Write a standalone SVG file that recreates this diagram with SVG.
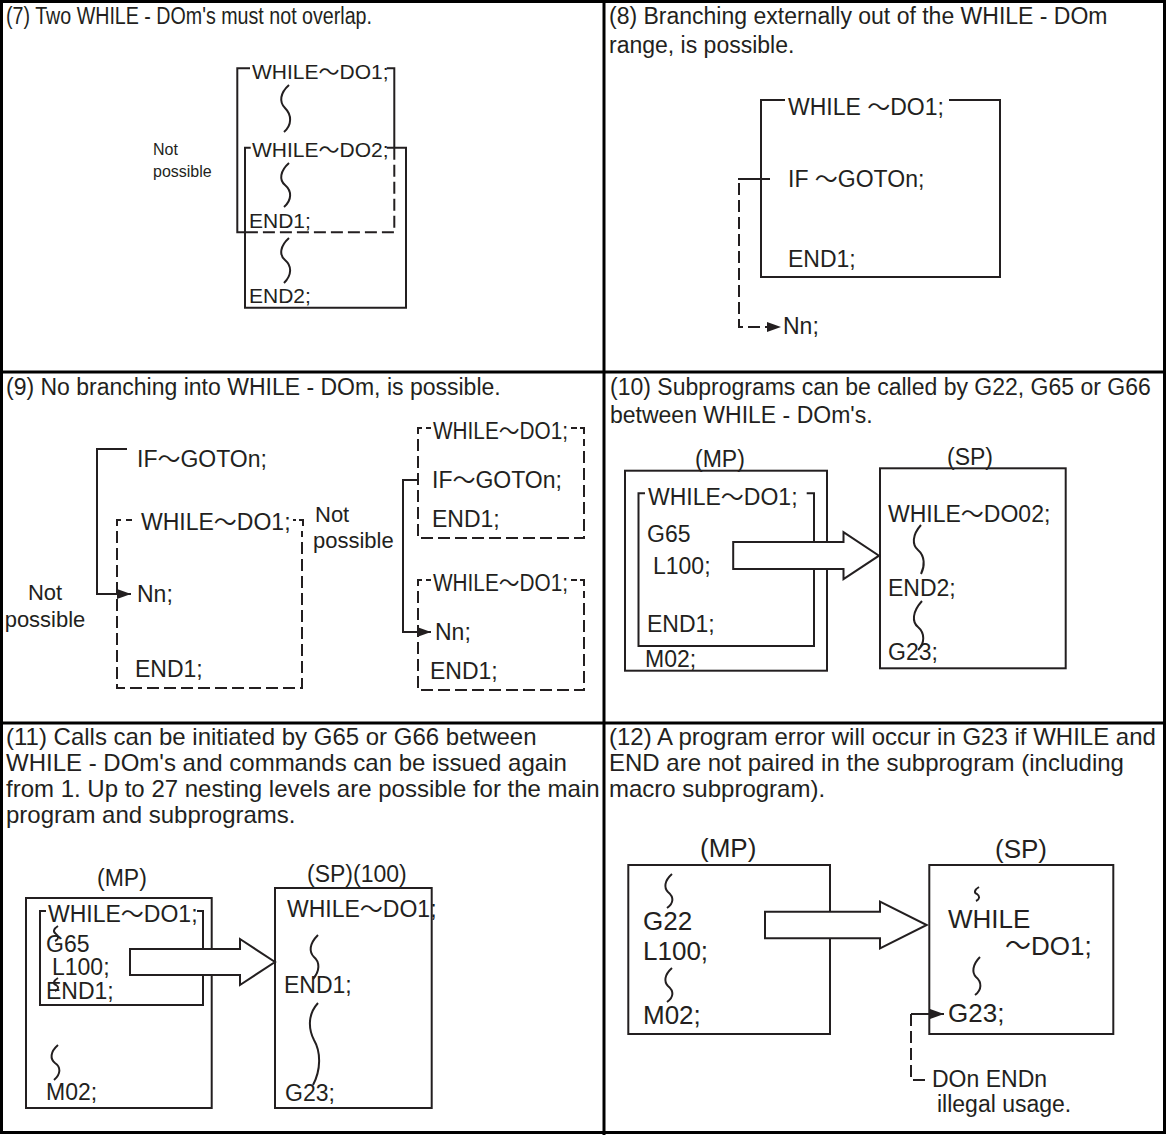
<svg xmlns="http://www.w3.org/2000/svg" width="1166" height="1135" viewBox="0 0 1166 1135">
<defs>
<style>
.g{stroke:#000;stroke-width:3;fill:none}
.l{stroke:#231f20;stroke-width:2;fill:none}
.d{stroke:#231f20;stroke-width:2;fill:none;stroke-dasharray:12 5}
.big{stroke:#231f20;stroke-width:2;fill:#fff}
text{font-family:"Liberation Sans",Arial,"Noto Sans CJK JP",sans-serif;font-size:23px;fill:#231f20}
.s21{font-size:21px}
.s16{font-size:16px}
.s24{font-size:24px}
.s26{font-size:26px}
</style>
<marker id="ah" markerUnits="userSpaceOnUse" markerWidth="14" markerHeight="10" refX="14" refY="5" orient="auto">
<path d="M0,0 L14,5 L0,10 Z" fill="#231f20"/>
</marker>
</defs>
<rect width="1166" height="1135" fill="#fff"/>
<g id="grid">
<rect class="g" x="1.5" y="1.5" width="1163" height="1131"/>
<line class="g" x1="604" y1="0" x2="604" y2="1135"/>
<line class="g" x1="0" y1="372" x2="1166" y2="372"/>
<line class="g" x1="0" y1="723" x2="1166" y2="723"/>
</g>
<g id="headers">
<text x="6" y="24" textLength="366" lengthAdjust="spacingAndGlyphs">(7) Two WHILE - DOm's must not overlap.</text>
<text x="609" y="24">(8) Branching externally out of the WHILE - DOm</text>
<text x="609" y="53">range, is possible.</text>
<text x="6" y="395">(9) No branching into WHILE - DOm, is possible.</text>
<text x="610" y="395">(10) Subprograms can be called by G22, G65 or G66</text>
<text x="610" y="423">between WHILE - DOm's.</text>
<text class="s24" x="6" y="745">(11) Calls can be initiated by G65 or G66 between</text>
<text class="s24" x="6" y="771">WHILE - DOm's and commands can be issued again</text>
<text class="s24" x="6" y="797">from 1. Up to 27 nesting levels are possible for the main</text>
<text class="s24" x="6" y="823">program and subprograms.</text>
<text class="s24" x="609" y="745">(12) A program error will occur in G23 if WHILE and</text>
<text class="s24" x="609" y="771">END are not paired in the subprogram (including</text>
<text class="s24" x="609" y="797">macro subprogram).</text>
</g>
<g id="connectors">
<!-- panel 7 -->
<path class="l" d="M250,68.3 H237.3 V232.3 H245"/>
<path class="l" d="M386.7,68.3 H394.3 V147.7"/>
<path class="d" d="M394.3,147.7 V232.3 H245"/>
<path class="l" d="M250.7,147.7 H245 V307.7 H406 V147.7 H386.7"/>
<path class="l" d="M289,85 C280,93 279,102 285,108 C292,115 292,125 284,132"/>
<path class="l" d="M289,163 C280,171 279,180 285,185 C292,191 292,200 284,207"/>
<path class="l" d="M289,238 C280,246 279,255 285,260 C292,266 292,275 284,283"/>
<!-- panel 8 -->
<path class="l" d="M785,100 H761 V277 H1000 V100 H949"/>
<path class="l" d="M738,179 H770"/>
<path class="d" d="M739,183 V327 H781" marker-end="url(#ah)"/>
<!-- panel 9 -->
<path class="l" d="M127,449 H97 V594 H131" marker-end="url(#ah)"/>
<path class="l" d="M117,526 V520 H121 M126,520 H132 M293,520 H296 M299,520 H303 V526"/>
<path class="d" d="M117,531 V688 H302 V531"/>
<path class="l" d="M418,434 V428 H422 M426,428 H431 M571,428 H577 M580,428 H584 V434"/>
<path class="d" d="M418,439 V538 H584 V439"/>
<path class="l" d="M418,586 V580 H422 M426,580 H431 M571,580 H577 M580,580 H584 V586"/>
<path class="d" d="M418,591 V690 H584 V591"/>
<path class="l" d="M418,480 H403 V632 H431" marker-end="url(#ah)"/>
<!-- panel 10 -->
<rect class="l" x="625" y="470.7" width="202" height="200"/>
<path class="l" d="M645,493.3 H638.5 V646 H814 V493.3 H806.7"/>
<rect class="l" x="880" y="468.3" width="185.7" height="200"/>
<path class="l" d="M921,525 C912,535 912,545 918,550 C925,556 925,566 921,574"/>
<path class="l" d="M922,601 C912,612 912,622 918,627 C925,633 925,643 918,650"/>
<polygon class="big" points="733.2,541.9 843.5,541.9 843.5,532.2 879,555.7 843.5,579.2 843.5,569 733.2,569"/>
<!-- panel 11 -->
<rect class="l" x="26" y="898" width="185.7" height="210"/>
<path class="l" d="M46,911 H40 V1005 H203 V911 H197"/>
<path class="l" d="M58,926 C53,929 53,932 56,934 C59,936 59,939 55,941"/>
<path class="l" d="M58,978 C53,981 53,984 56,985 C59,987 59,989 55,991"/>
<path class="l" d="M58,1045 C50,1052 50,1059 55,1063 C61,1067 61,1074 54,1080"/>
<rect class="l" x="275" y="888" width="156.7" height="220"/>
<path class="l" d="M318,935 C309,944 309,952 314,957 C320,962 320,971 313,979"/>
<path class="l" d="M318,1003 C308,1014 308,1028 314,1040 C321,1052 321,1070 313,1085"/>
<polygon class="big" points="130,949 240,949 240,939 275,962 240,985 240,975 130,975"/>
<!-- panel 12 -->
<rect class="l" x="628.3" y="865" width="201.7" height="169"/>
<path class="l" d="M672,874 C664,881 664,888 668,892 C674,897 674,903 667,908"/>
<path class="l" d="M672,968 C664,975 664,982 668,986 C674,991 674,997 667,1002"/>
<rect class="l" x="929.3" y="865" width="184" height="169"/>
<path class="l" d="M979,887 C974,890 974,893 977,894 C980,896 980,899 976,901"/>
<path class="l" d="M980,957 C972,965 972,973 976,977 C982,982 982,990 975,995"/>
<polygon class="big" points="765,911.7 880,911.7 880,901.7 926.7,925 880,948.3 880,938.3 765,938.3"/>
<path class="l" d="M911,1014 H944" marker-end="url(#ah)"/>
<path class="d" d="M911,1014 V1080 H928"/>
</g>
<g id="p7">
<text class="s21" x="252" y="79">WHILE～DO1;</text>
<text class="s21" x="252" y="157">WHILE～DO2;</text>
<text class="s21" x="249" y="228">END1;</text>
<text class="s21" x="249" y="303">END2;</text>
<text class="s16" x="153" y="155">Not</text>
<text class="s16" x="153" y="177">possible</text>
</g>
<g id="p8">
<text x="788" y="115">WHILE ～DO1;</text>
<text x="788" y="187">IF ～GOTOn;</text>
<text x="788" y="267">END1;</text>
<text x="783" y="334">Nn;</text>
</g>
<g id="p9">
<text x="137" y="467">IF～GOTOn;</text>
<text x="141" y="530">WHILE～DO1;</text>
<text x="137" y="602">Nn;</text>
<text x="135" y="677">END1;</text>
<text x="315" y="522" style="font-size:22px">Not</text>
<text x="313" y="548" style="font-size:22px">possible</text>
<text x="45" y="600" text-anchor="middle" style="font-size:22px">Not</text>
<text x="45" y="627" text-anchor="middle" style="font-size:22px">possible</text>
<text x="433" y="439" textLength="135" lengthAdjust="spacingAndGlyphs">WHILE～DO1;</text>
<text x="432" y="488">IF～GOTOn;</text>
<text x="432" y="527">END1;</text>
<text x="433" y="591" textLength="135" lengthAdjust="spacingAndGlyphs">WHILE～DO1;</text>
<text x="435" y="640">Nn;</text>
<text x="430" y="679">END1;</text>
</g>
<g id="p10">
<text x="695" y="466.7">(MP)</text>
<text x="947" y="465">(SP)</text>
<text x="648" y="505">WHILE～DO1;</text>
<text x="647" y="541.7">G65</text>
<text x="653" y="573.6">L100;</text>
<text x="647" y="631.6">END1;</text>
<text x="645" y="666.7">M02;</text>
<text x="888" y="521.7">WHILE～DO02;</text>
<text x="888" y="596">END2;</text>
<text x="888" y="660">G23;</text>
</g>
<g id="p11">
<text x="97" y="886">(MP)</text>
<text x="307" y="882">(SP)(100)</text>
<text x="48" y="922">WHILE～DO1;</text>
<text x="46" y="952">G65</text>
<text x="52" y="975">L100;</text>
<text x="46" y="999">END1;</text>
<text x="46" y="1100">M02;</text>
<text x="287" y="917">WHILE～DO1;</text>
<text x="284" y="993">END1;</text>
<text x="285" y="1101">G23;</text>
</g>
<g id="p12">
<text class="s26" x="700" y="856.7">(MP)</text>
<text class="s26" x="995" y="858">(SP)</text>
<text class="s26" x="643" y="930">G22</text>
<text class="s26" x="643" y="960">L100;</text>
<text class="s26" x="643" y="1024">M02;</text>
<text class="s26" x="948" y="928">WHILE</text>
<text class="s26" x="1005" y="955">～DO1;</text>
<text class="s26" x="948" y="1022">G23;</text>
<text x="932" y="1087">DOn ENDn</text>
<text x="937" y="1112">illegal usage.</text>
</g>
</svg>
